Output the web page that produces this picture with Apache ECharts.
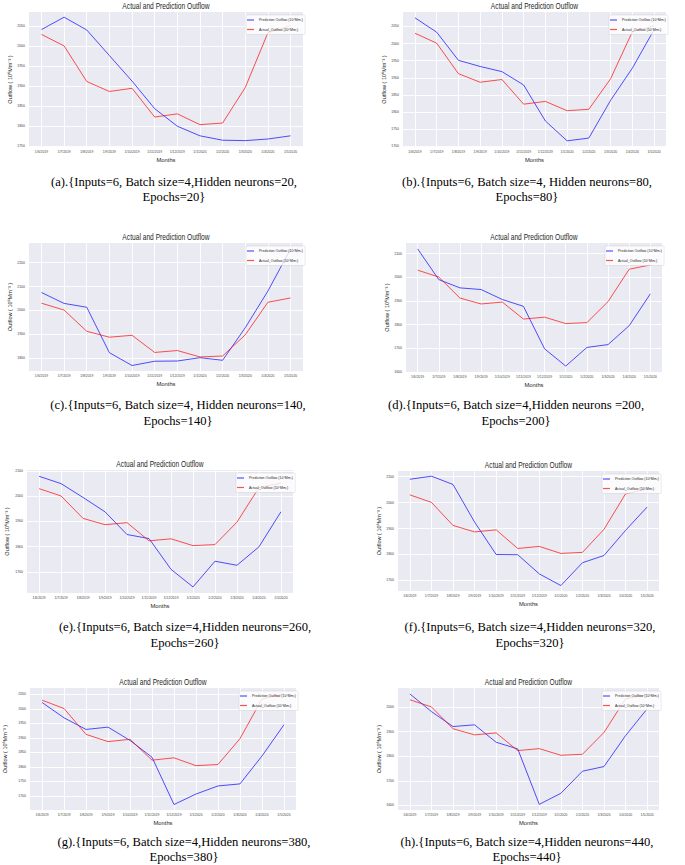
<!DOCTYPE html>
<html><head><meta charset="utf-8">
<script src="https://cdn.jsdelivr.net/npm/echarts@6/dist/echarts.min.js"></script>
<style>html,body{margin:0;padding:0;background:#fff}#c{width:685px;height:865px}</style>
</head><body><div id="c"></div>
<script>
// ---- data ----
const months = ['1/6/2019','1/7/2019','1/8/2019','1/9/2019','1/10/2019','1/11/2019','1/12/2019','1/1/2020','1/2/2020','1/3/2020','1/4/2020','1/5/2020'];
const actualOutflow = [2030, 2001, 1912, 1887, 1895, 1823, 1831, 1804, 1808, 1897, 2034, 2052];
const predA = [2042, 2073, 2041, 1977, 1913, 1844, 1800, 1776, 1765, 1764, 1768, 1776];
const predB = [2075, 2033, 1951, 1933, 1918, 1879, 1774, 1716, 1724, 1834, 1928, 2040];
const predC = [2075, 2029, 2013, 1822, 1768, 1786, 1787, 1801, 1790, 1927, 2081, 2258];
const predD = [2120, 1990, 1955, 1948, 1906, 1877, 1697, 1624, 1703, 1715, 1795, 1930];
const predE = [2079, 2050, 1995, 1938, 1848, 1832, 1710, 1640, 1742, 1726, 1799, 1938];
const predF = [2090, 2102, 2070, 1925, 1800, 1799, 1725, 1680, 1768, 1796, 1893, 1983];
const predG = [2022, 1969, 1929, 1937, 1891, 1833, 1670, 1706, 1734, 1741, 1837, 1945];
const predH = [2054, 1982, 1921, 1928, 1857, 1830, 1604, 1649, 1739, 1758, 1884, 1993];
const predictions = [predA, predB, predC, predD, predE, predF, predG, predH];
const yTickStep = [50, 50, 100, 100, 100, 100, 50, 100];
const yRange = [[1748,2086],[1698,2092],[1745,2283],[1599,2145],[1616,2104],[1659,2122],[1651,2072],[1581,2078]];
const captionLine1 = [
  '(a).{Inputs=6, Batch size=4,Hidden neurons=20,',
  '(b).{Inputs=6, Batch size=4, Hidden neurons=80,',
  '(c).{Inputs=6, Batch size=4, Hidden neurons=140,',
  '(d).{Inputs=6, Batch size=4,Hidden neurons =200,',
  '(e).{Inputs=6, Batch size=4,Hidden neurons=260,',
  '(f).{Inputs=6, Batch size=4,Hidden neurons=320,',
  '(g).{Inputs=6, Batch size=4,Hidden neurons=380,',
  '(h).{Inputs=6, Batch size=4,Hidden neurons=440,'
];
const captionLine2 = ['Epochs=20}','Epochs=80}','Epochs=140}','Epochs=200}','Epochs=260}','Epochs=320}','Epochs=380}','Epochs=440}'];
const titleText = 'Actual and Prediction Outflow';
const predName = 'Prediction Outflow (10\u2076Mm\u00b3)';
const actName = 'Actual_Outflow (10\u2076Mm\u00b3)';
const yLabel = 'Outflow ( 10\u2076Mm\u207b\u00b3 )';
const xLabel = 'Months';

// ---- layout ----
const grids = [
  {left:29, top:12, width:274, height:135, nameGap:16},
  {left:403, top:12, width:263, height:135, nameGap:14},
  {left:29, top:243, width:274, height:128, nameGap:16},
  {left:406, top:243, width:256, height:129, nameGap:14},
  {left:27, top:470, width:266, height:123, nameGap:17},
  {left:398, top:471, width:261, height:120, nameGap:15},
  {left:30, top:688, width:266, height:122, nameGap:22},
  {left:398, top:688, width:261, height:122, nameGap:15}
];
const captionPos = [
  {x:174, y1:182, y2:197},{x:527, y1:182, y2:197},
  {x:178, y1:405, y2:421},{x:516, y1:405, y2:421},
  {x:185, y1:627, y2:643},{x:530, y1:627, y2:643},
  {x:184, y1:842, y2:857},{x:527, y1:842, y2:857}
];
const SANS = 'Liberation Sans, Arial, sans-serif';
const SERIF = 'Liberation Serif, Times New Roman, serif';
const BLUE = 'rgba(0,0,255,0.68)';
const RED = 'rgba(255,0,0,0.68)';

const option = {
  animation: false,
  backgroundColor: '#ffffff',
  grid: [], xAxis: [], yAxis: [], series: [], legend: [], graphic: []
};

grids.forEach((g, i) => {
  option.grid.push({left:g.left, top:g.top, width:g.width, height:g.height, show:true,
    backgroundColor:'#EAEAF2', borderWidth:0, containLabel:false});
  option.xAxis.push({
    type:'value', gridIndex:i, min:-0.55, max:months.length - 0.45,
    minInterval:1, maxInterval:1,
    axisLine:{show:false}, axisTick:{show:false},
    splitLine:{show:true, showMinLine:false, showMaxLine:false, lineStyle:{color:'#ffffff', width:0.9}},
    axisLabel:{fontSize:3.4, color:'#444', margin:3, fontFamily:SANS,
      formatter: v => (Number.isInteger(v) && months[v]) ? months[v] : ''},
    name:xLabel, nameLocation:'middle', nameGap:10,
    nameTextStyle:{fontSize:5.8, color:'#262626', fontFamily:SANS}
  });
  const step = yTickStep[i];
  option.yAxis.push({
    type:'value', gridIndex:i, min:yRange[i][0], max:yRange[i][1],
    minInterval:step, maxInterval:step,
    axisLine:{show:false}, axisTick:{show:false},
    splitLine:{show:true, showMinLine:false, showMaxLine:false, lineStyle:{color:'#ffffff', width:0.9}},
    axisLabel:{fontSize:3.5, color:'#444', margin:4, fontFamily:SANS,
      formatter: v => (v % step === 0) ? String(v) : ''},
    name:yLabel, nameLocation:'middle', nameGap:g.nameGap,
    nameTextStyle:{fontSize:5.5, color:'#262626', fontFamily:SANS}
  });
  option.series.push({
    type:'line', name:predName, xAxisIndex:i, yAxisIndex:i, symbol:'none',
    color:BLUE, lineStyle:{color:BLUE, width:1},
    data: predictions[i].map((v, k) => [k, v])
  });
  option.series.push({
    type:'line', name:actName, xAxisIndex:i, yAxisIndex:i, symbol:'none',
    color:RED, lineStyle:{color:RED, width:1},
    data: actualOutflow.map((v, k) => [k, v])
  });
  option.legend.push({
    orient:'vertical', left:g.left + g.width - 57, top:g.top + 3,
    data:[predName, actName], icon:'rect', itemWidth:7, itemHeight:1.2, itemGap:5.5,
    padding:[3,2,3,1], backgroundColor:'rgba(255,255,255,0.8)',
    borderColor:'rgba(200,200,200,0.8)', borderWidth:0.5, borderRadius:1,
    textStyle:{fontSize:3.5, color:'#262626', fontFamily:SANS}
  });
  option.graphic.push({
    type:'text', x:g.left + g.width / 2, y:g.top - 6, scaleX:0.74,
    style:{text:titleText, fontSize:9, fontFamily:SANS, fill:'#262626',
      textAlign:'center', textVerticalAlign:'middle', align:'center', verticalAlign:'middle'}
  });
  const c = captionPos[i];
  [[captionLine1[i], c.y1], [captionLine2[i], c.y2]].forEach(([t, y]) => {
    option.graphic.push({
      type:'text', x:c.x, y:y,
      style:{text:t, fontSize:12.6, fontFamily:SERIF, fill:'#000',
        textAlign:'center', textVerticalAlign:'middle', align:'center', verticalAlign:'middle'}
    });
  });
});

const chart = echarts.init(document.getElementById('c'), null, {renderer:'svg'});
chart.setOption(option);
</script>
</body></html>
